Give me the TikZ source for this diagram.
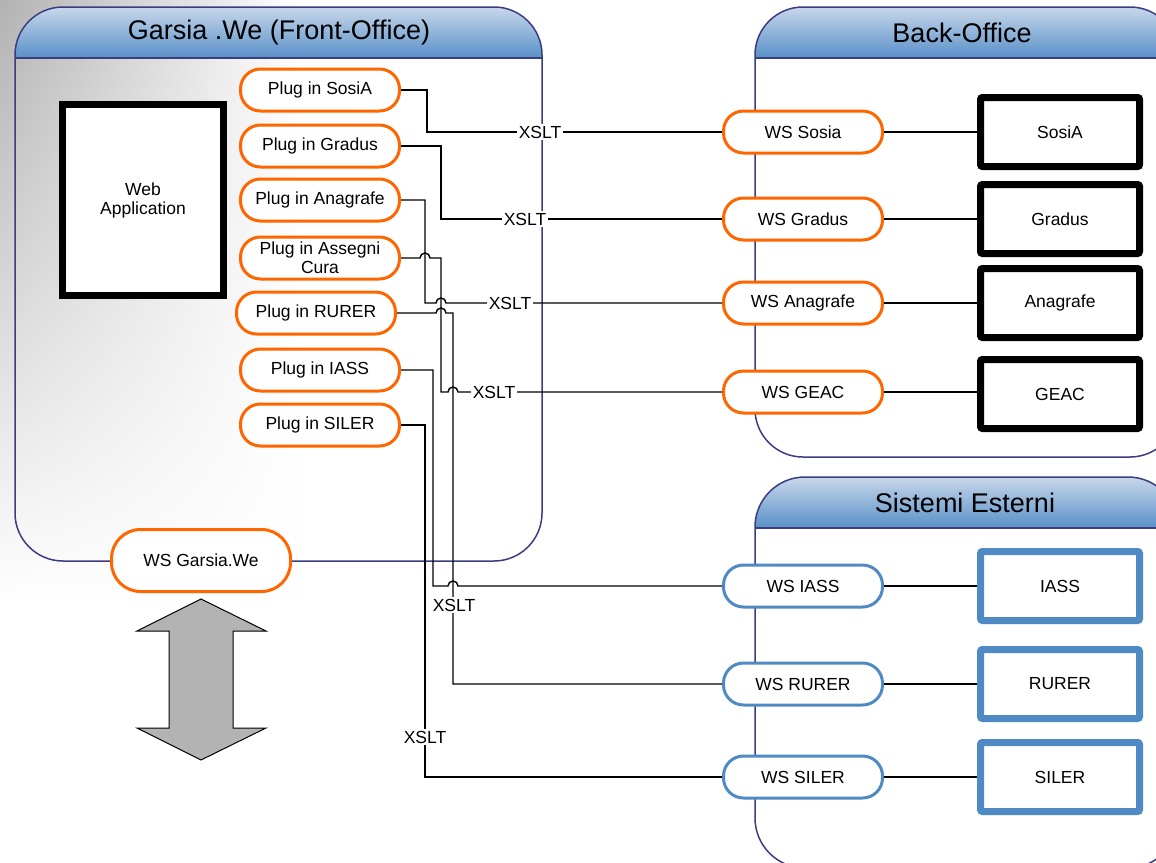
\documentclass[tikz,border=0pt]{standalone}
\usepackage{fontspec}
\setmainfont{Liberation Sans}
\usetikzlibrary{fadings}
\definecolor{orangec}{HTML}{FF6600}
\definecolor{bluec}{HTML}{4F8AC4}
\definecolor{navyc}{HTML}{3C3C82}
\definecolor{hdrtop}{HTML}{C8D7EA}
\definecolor{hdrbot}{HTML}{5890C8}
\definecolor{arrowgray}{HTML}{B3B3B3}
\newcommand{\fsdiag}{\fontsize{17.5}{19}\selectfont}
\newcommand{\fbdiag}{\fontsize{27}{32}\selectfont}
\tikzfading[name=bgfade, top color=transparent!0, bottom color=transparent!100]
\begin{document}
\begin{tikzpicture}[x=1pt,y=-1pt,
  panel/.style={draw=navyc, line width=1.5pt},
  paneltitle/.style={font=\fbdiag, inner sep=0pt},
  plug/.style={draw=orangec, line width=3pt, fill=white, rounded corners=20pt,
    minimum width=159pt, minimum height=42pt, inner sep=1pt, font=\fsdiag, align=center},
  wsblue/.style={plug, draw=bluec},
  sysbox/.style={draw=black, line width=7pt, fill=white, rounded corners=2pt,
    minimum width=159pt, minimum height=69pt, inner sep=0pt, font=\fsdiag},
  sysblue/.style={sysbox, draw=bluec},
  conn/.style={draw=black, line width=1.4pt},
  xslt/.style={fill=white, inner sep=1.5pt, font=\fsdiag}
]
\useasboundingbox (0,0) rectangle (1156,862);
\clip (0,0) rectangle (1156,862);
\fill[white] (0,0) rectangle (1156,862);
% background texture
\shade[left color=black!30, right color=white, path fading=bgfade] (0,0) rectangle (300,600);

% ---------- Front-office panel ----------
\begin{scope}
\clip[rounded corners=48pt] (15,7) rectangle (542,561);
\shade[top color=hdrtop, bottom color=hdrbot] (15,7) rectangle (542,58);
\end{scope}
\draw[panel, rounded corners=48pt] (15,7) rectangle (542,561);
\draw[panel] (15,58) -- (542,58);
\node[paneltitle] (tfront) at (279,33) {Garsia .We (Front-Office)};

% ---------- Back-office panel ----------
\begin{scope}
\clip[rounded corners=48pt] (755,7) rectangle (1178,457);
\shade[top color=hdrtop, bottom color=hdrbot] (755,7) rectangle (1178,58);
\end{scope}
\draw[panel, rounded corners=48pt] (755,7) rectangle (1178,457);
\draw[panel] (755,58) -- (1178,58);
\node[paneltitle] (tback) at (962,33) {Back-Office};

% ---------- Sistemi Esterni panel ----------
\begin{scope}
\clip[rounded corners=50pt] (755,477) rectangle (1178,868);
\shade[top color=hdrtop, bottom color=hdrbot] (755,477) rectangle (1178,528);
\end{scope}
\draw[panel, rounded corners=50pt] (755,477) rectangle (1178,868);
\draw[panel] (755,528) -- (1178,528);
\node[paneltitle] (text) at (965,503) {Sistemi Esterni};

% ---------- Web application ----------
\node[draw=black, line width=7pt, fill=white, minimum width=161pt, minimum height=191pt,
  font=\fsdiag, align=center, inner sep=0pt] (webapp) at (143,200) {Web\\Application};

% ---------- Plug-ins ----------
\node[plug] (psosia)    at (320,90)  {Plug in SosiA};
\node[plug] (pgradus)   at (320,146) {Plug in Gradus};
\node[plug] (panagrafe) at (320,200) {Plug in Anagrafe};
\node[plug] (passegni)  at (320,258) {Plug in Assegni\\Cura};
\node[plug] (prurer)    at (316,313) {Plug in RURER};
\node[plug] (piass)     at (320,370) {Plug in IASS};
\node[plug] (psiler)    at (320,425) {Plug in SILER};

% ---------- WS nodes ----------
\node[plug] (wssosia)    at (803,132) {WS Sosia};
\node[plug] (wsgradus)   at (803,219) {WS Gradus};
\node[plug] (wsanagrafe) at (803,303) {WS Anagrafe};
\node[plug] (wsgeac)     at (803,392) {WS GEAC};
\node[wsblue] (wsiass)   at (803,586) {WS IASS};
\node[wsblue] (wsrurer)  at (803,684) {WS RURER};
\node[wsblue] (wssiler)  at (803,777) {WS SILER};

\node[plug, minimum width=179pt, minimum height=62pt, rounded corners=29pt] (wsgarsia) at (201,560.5) {WS Garsia.We};

% ---------- Systems ----------
\node[sysbox] (bsosia)    at (1060,132) {SosiA};
\node[sysbox] (bgradus)   at (1060,219) {Gradus};
\node[sysbox] (banagrafe) at (1060,303) {Anagrafe};
\node[sysbox] (bgeac)     at (1060,394) {GEAC};
\node[sysblue] (biass)    at (1060,586) {IASS};
\node[sysblue] (brurer)   at (1060,684) {RURER};
\node[sysblue] (bsiler)   at (1060,777) {SILER};

% ---------- Connectors ----------
\draw[conn] (psosia.east) -- (427,90) -- (427,132) -- (wssosia.west);
\draw[conn] (pgradus.east) -- (441,146) -- (441,219) -- (wsgradus.west);
\draw[conn] (panagrafe.east) -- (425,200) -- (425,303) -- (436,303)
  arc[start angle=180, end angle=0, radius=5pt] -- (wsanagrafe.west);
\draw[conn] (passegni.east) -- (420,258) arc[start angle=180, end angle=0, radius=5pt]
  -- (441,258) -- (441,392) -- (448,392) arc[start angle=180, end angle=0, radius=5pt]
  -- (wsgeac.west);
\draw[conn] (prurer.east) -- (436,313) arc[start angle=180, end angle=0, radius=5pt]
  -- (453,313) -- (453,684) -- (wsrurer.west);
\draw[conn] (piass.east) -- (433,370) -- (433,586) -- (448,586)
  arc[start angle=180, end angle=0, radius=5pt] -- (wsiass.west);
\draw[conn] (psiler.east) -- (425,425) -- (425,777) -- (wssiler.west);

\draw[conn] (wssosia.east) -- (bsosia.west);
\draw[conn] (wsgradus.east) -- (bgradus.west);
\draw[conn] (wsanagrafe.east) -- (banagrafe.west);
\draw[conn] (wsgeac.east) -- (wsgeac.east -| bgeac.west);
\draw[conn] (wsiass.east) -- (biass.west);
\draw[conn] (wsrurer.east) -- (brurer.west);
\draw[conn] (wssiler.east) -- (bsiler.west);

% XSLT labels
\node[xslt] (x1) at (540,132) {XSLT};
\node[xslt] (x2) at (525,219) {XSLT};
\node[xslt] (x3) at (510,303) {XSLT};
\node[xslt] (x4) at (494,392) {XSLT};
\node[xslt] (x5) at (454,605) {XSLT};
\node[xslt] (x6) at (425,737) {XSLT};

% ---------- Double arrow ----------
\draw[fill=arrowgray, draw=black, line width=1pt] (201,599) -- (266,631) -- (233,631) -- (233,728)
  -- (266,728) -- (201,760) -- (137,728) -- (169,728) -- (169,631) -- (137,631) -- cycle;
\end{tikzpicture}
\end{document}
